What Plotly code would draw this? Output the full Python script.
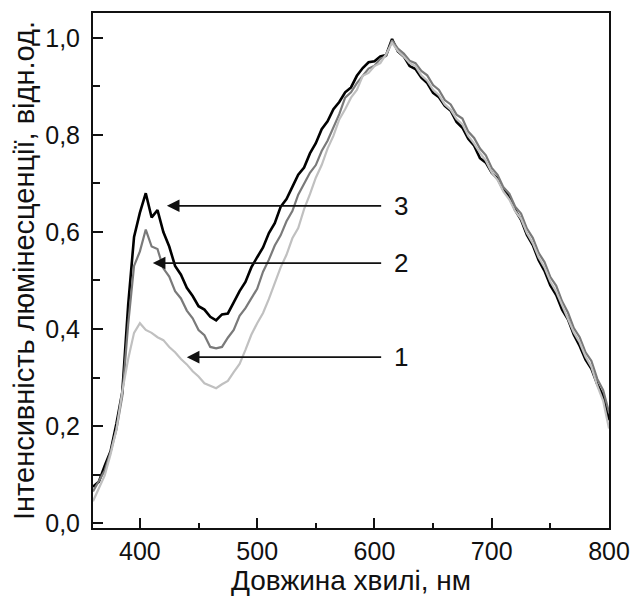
import plotly.graph_objects as go

wavelength = list(range(360, 801, 5))

curve3 = [0.075, 0.085, 0.118, 0.148, 0.205, 0.27, 0.45, 0.59, 0.64, 0.68,
          0.63, 0.645, 0.60, 0.57, 0.53, 0.512, 0.485, 0.468, 0.447, 0.44,
          0.425, 0.418, 0.43, 0.432, 0.455, 0.478, 0.497, 0.527, 0.548, 0.568,
          0.598, 0.618, 0.652, 0.668, 0.693, 0.718, 0.733, 0.762, 0.783, 0.812,
          0.828, 0.853, 0.868, 0.888, 0.898, 0.922, 0.938, 0.95, 0.952, 0.962,
          0.965, 0.998, 0.972, 0.962, 0.942, 0.936, 0.918, 0.907, 0.887, 0.878,
          0.86, 0.85, 0.827, 0.815, 0.792, 0.778, 0.752, 0.743, 0.722, 0.71,
          0.687, 0.673, 0.645, 0.625, 0.594, 0.573, 0.542, 0.52, 0.49, 0.47,
          0.44, 0.42, 0.388, 0.365, 0.337, 0.318, 0.286, 0.262, 0.212]

curve2 = [0.065, 0.088, 0.108, 0.147, 0.193, 0.262, 0.41, 0.53, 0.56, 0.605,
          0.57, 0.565, 0.525, 0.508, 0.478, 0.463, 0.438, 0.422, 0.398, 0.387,
          0.363, 0.36, 0.363, 0.382, 0.398, 0.427, 0.443, 0.463, 0.483, 0.518,
          0.543, 0.572, 0.593, 0.622, 0.643, 0.677, 0.698, 0.722, 0.738, 0.767,
          0.788, 0.817, 0.843, 0.877, 0.888, 0.907, 0.923, 0.937, 0.943, 0.957,
          0.963, 0.995, 0.978, 0.968, 0.953, 0.948, 0.932, 0.923, 0.903, 0.893,
          0.872, 0.863, 0.842, 0.834, 0.807, 0.794, 0.772, 0.758, 0.732, 0.718,
          0.692, 0.679, 0.652, 0.638, 0.607, 0.588, 0.557, 0.538, 0.507, 0.489,
          0.457, 0.434, 0.402, 0.383, 0.352, 0.334, 0.297, 0.274, 0.228]

curve1 = [0.045, 0.072, 0.098, 0.142, 0.193, 0.272, 0.338, 0.392, 0.412, 0.398,
          0.392, 0.383, 0.377, 0.363, 0.352, 0.338, 0.327, 0.313, 0.302, 0.288,
          0.283, 0.278, 0.286, 0.293, 0.311, 0.328, 0.357, 0.388, 0.412, 0.433,
          0.462, 0.493, 0.527, 0.553, 0.587, 0.608, 0.647, 0.678, 0.712, 0.738,
          0.772, 0.798, 0.832, 0.853, 0.877, 0.893, 0.922, 0.928, 0.942, 0.948,
          0.967, 0.99, 0.973, 0.962, 0.948, 0.942, 0.923, 0.912, 0.893, 0.882,
          0.863, 0.852, 0.833, 0.822, 0.798, 0.782, 0.763, 0.747, 0.723, 0.707,
          0.683, 0.667, 0.643, 0.627, 0.598, 0.577, 0.548, 0.527, 0.498, 0.477,
          0.448, 0.422, 0.393, 0.372, 0.343, 0.322, 0.283, 0.252, 0.195]

series = [("3", curve3, "#000000", 2.6),
          ("2", curve2, "#7a7a7a", 2.2),
          ("1", curve1, "#c0c0c0", 2.2)]

X_RANGE = [360, 800]
Y_RANGE = [-0.0103, 1.0515]

FONT = "Liberation Sans, Arial, sans-serif"
AX = "#111111"

fig = go.Figure()
for name, vals, col, w in series:
    fig.add_trace(go.Scatter(x=wavelength, y=vals, mode="lines", name=name,
                             line=dict(color=col, width=w), showlegend=False))
# empty trace carrying the minor-tick overlay axes
fig.add_trace(go.Scatter(x=[], y=[], xaxis="x2", yaxis="y2",
                         showlegend=False, hoverinfo="skip"))

# arrows: (tip x, tail x, y, label)
arrows = [(423, 607, 0.654, "3"), (411, 607, 0.536, "2"), (440, 607, 0.342, "1")]
for tipx, tailx, yy, lab in arrows:
    fig.add_annotation(x=tipx, y=yy, ax=tailx, ay=yy, xref="x", yref="y",
                       axref="x", ayref="y", text="", showarrow=True,
                       arrowhead=2, arrowsize=1.4, arrowwidth=1.8,
                       arrowcolor="#111111")
    fig.add_annotation(x=615, y=yy, xref="x", yref="y", text=lab,
                       showarrow=False, xanchor="left", yanchor="middle",
                       font=dict(family=FONT, size=26, color="#111111"))

fig.update_layout(
    width=635, height=588,
    margin=dict(l=85, r=34, t=5, b=68),
    plot_bgcolor="white", paper_bgcolor="white",
    separators=", ",
    font=dict(family=FONT, size=25, color="#111111"),
    xaxis=dict(range=X_RANGE, tickmode="linear", tick0=400, dtick=100,
               ticks="inside", ticklen=10, tickwidth=2, tickcolor=AX,
               showline=True, linecolor=AX, linewidth=2, mirror=True,
               showgrid=False, zeroline=False, automargin=False,
               ticklabelstandoff=0,
               title=dict(text="Довжина хвилі, нм", standoff=10,
                          font=dict(size=28)),
               tickfont=dict(size=25)),
    yaxis=dict(range=Y_RANGE, tickmode="linear", tick0=0, dtick=0.2,
               tickformat=".1f",
               ticks="inside", ticklen=10, tickwidth=2, tickcolor=AX,
               showline=True, linecolor=AX, linewidth=2, mirror=True,
               showgrid=False, zeroline=False, automargin=False,
               ticklabelstandoff=6,
               title=dict(text="Інтенсивність люмінесценції, відн.од.",
                          standoff=2, font=dict(size=29)),
               tickfont=dict(size=25)),
    xaxis2=dict(range=X_RANGE, overlaying="x", anchor="y2", side="bottom",
                tickmode="linear", tick0=350, dtick=50, ticks="inside",
                ticklen=5, tickwidth=2, tickcolor=AX, showticklabels=False,
                showgrid=False, zeroline=False, showline=False,
                automargin=False),
    yaxis2=dict(range=Y_RANGE, overlaying="y", anchor="x2", side="left",
                tickmode="linear", tick0=0, dtick=0.1, ticks="inside",
                ticklen=7, tickwidth=2, tickcolor=AX, showticklabels=False,
                showgrid=False, zeroline=False, showline=False,
                automargin=False),
)

fig.write_html("out.html")
